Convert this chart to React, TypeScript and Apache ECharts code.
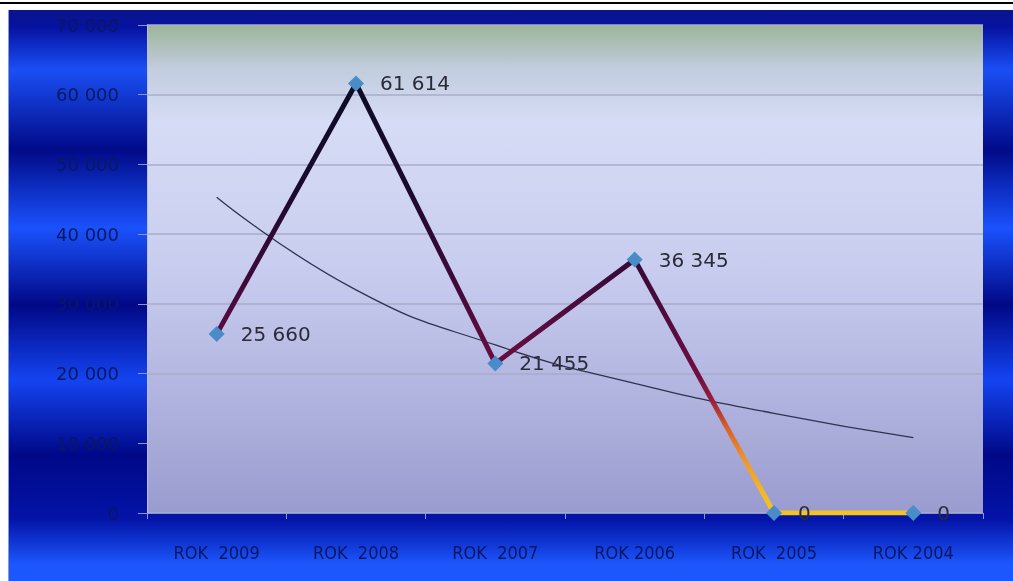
import React, { useEffect, useRef } from "react";
import * as echarts from "echarts";

const categories = ["ROK  2009", "ROK  2008", "ROK  2007", "ROK 2006", "ROK  2005", "ROK 2004"];
const values = [25660, 61614, 21455, 36345, 0, 0];
// logarithmic trend line
const trendValues = [45300, 32000, 24100, 18600, 14300, 10800];
const yTicks = { min: 0, max: 70000, interval: 10000 };

const fmt = (v: number) => String(v).replace(/\B(?=(\d{3})+(?!\d))/g, " ");

export default function App() {
  const ref = useRef<HTMLDivElement>(null);
  useEffect(() => {
    if (!ref.current) return;
    const chart = echarts.init(ref.current, undefined, { renderer: "svg" });
    const bgGrad = new echarts.graphic.LinearGradient(0, 0, 0, 1, [
      { offset: 0, color: "#0a148c" },
      { offset: 0.03, color: "#0612a0" },
      { offset: 0.105, color: "#1a4ff4" },
      { offset: 0.245, color: "#010a88" },
      { offset: 0.382, color: "#1a52fc" },
      { offset: 0.517, color: "#010886" },
      { offset: 0.648, color: "#1444f0" },
      { offset: 0.779, color: "#000888" },
      { offset: 0.893, color: "#0414a8" },
      { offset: 0.97, color: "#1c56fc" },
      { offset: 1, color: "#1c58ff" },
    ]);
    const plotGrad = new echarts.graphic.LinearGradient(0, 0, 0, 1, [
      { offset: 0, color: "#9db49a" },
      { offset: 0.09, color: "#c2cdde" },
      { offset: 0.2, color: "#d6dcf5" },
      { offset: 0.5, color: "#c8cdef" },
      { offset: 0.8, color: "#adb0dc" },
      { offset: 1, color: "#9a9bcf" },
    ]);
    const lineGrad = new echarts.graphic.LinearGradient(0, 0, 0, 1, [
      { offset: 0, color: "#0c0c26" },
      { offset: 0.25, color: "#1c0a2e" },
      { offset: 0.45, color: "#3c0a3a" },
      { offset: 0.6, color: "#5e0c40" },
      { offset: 0.68, color: "#6e0e40" },
      { offset: 0.74, color: "#9a2038" },
      { offset: 0.8, color: "#d8602a" },
      { offset: 0.88, color: "#f0982a" },
      { offset: 0.95, color: "#f4b824" },
      { offset: 1, color: "#f5c420" },
    ]);
    chart.setOption({
      animation: false,
      graphic: [
        { type: "rect", z: -100, shape: { x: 0, y: 0, width: 1013, height: 581 }, style: { fill: "#ffffff" } },
        { type: "line", z: -99, shape: { x1: 0, y1: 3, x2: 1013, y2: 3 }, style: { stroke: "#000000", lineWidth: 2 } },
        { type: "rect", z: -98, shape: { x: 8, y: 10, width: 1005, height: 571 }, style: { fill: bgGrad } },
        { type: "line", z: -97, shape: { x1: 8.5, y1: 10, x2: 8.5, y2: 581 }, style: { stroke: "#8a9ad8", lineWidth: 1 } },
      ],
      grid: {
        left: 147,
        right: 30,
        top: 25,
        bottom: 68,
        show: true,
        backgroundColor: plotGrad,
        borderWidth: 0,
      },
      xAxis: {
        type: "category",
        data: categories,
        boundaryGap: true,
        axisLine: { show: true, lineStyle: { color: "#8d93d0", width: 1 } },
        axisTick: { show: true, length: 6, lineStyle: { color: "#8a96d8" } },
        axisLabel: {
          margin: 30,
          fontSize: 18,
          color: "#0b1660",
          fontFamily: '"Liberation Sans Narrow", "DejaVu Sans Condensed", sans-serif',
        },
      },
      yAxis: {
        type: "value",
        min: yTicks.min,
        max: yTicks.max,
        interval: yTicks.interval,
        axisLine: { show: true, lineStyle: { color: "#b8bde0", width: 1 } },
        axisTick: { show: true, length: 9, lineStyle: { color: "#8a96d0" } },
        splitLine: { show: true, lineStyle: { color: "#a9adc9", width: 1.5 } },
        axisLabel: {
          margin: 28,
          fontSize: 18,
          color: "#0a1860",
          fontFamily: '"DejaVu Sans", sans-serif',
          formatter: (v: number) => fmt(v),
        },
      },
      series: [
        {
          name: "trend",
          type: "line",
          data: trendValues,
          smooth: 0.5,
          symbol: "none",
          z: 2,
          lineStyle: { color: "#2e3250", width: 1.3 },
          silent: true,
        },
        {
          name: "values",
          type: "line",
          data: values,
          z: 5,
          symbol: "diamond",
          symbolSize: 16,
          itemStyle: { color: "#4a8cc8" },
          lineStyle: { color: lineGrad, width: 5 },
          label: {
            show: true,
            position: "right",
            distance: 16,
            fontSize: 20,
            color: "#2a2a38",
            fontFamily: '"DejaVu Sans", sans-serif',
            formatter: (p: any) => fmt(p.value),
          },
        },
      ],
    });
    return () => chart.dispose();
  }, []);
  return (
    <div
      ref={ref}
      style={{ position: "fixed", left: 0, top: 0, width: 1013, height: 581 }}
    />
  );
}
